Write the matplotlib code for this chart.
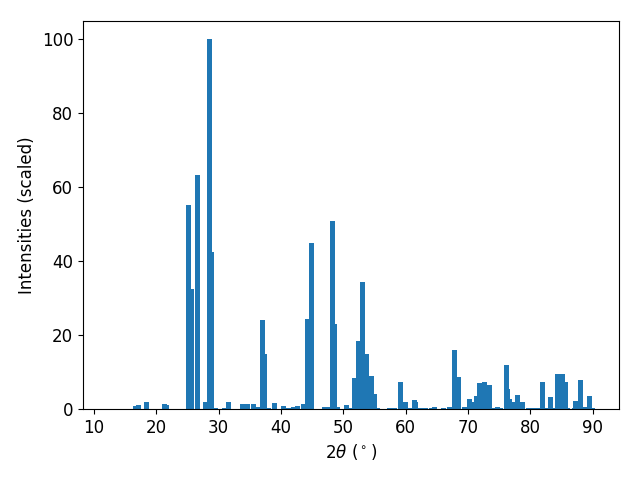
import matplotlib
matplotlib.use("Agg")
import matplotlib.pyplot as plt

two_theta = [16.65, 17.13, 18.41, 21.3, 21.6, 25.14, 25.6, 26.59, 27.87, 28.49,
             28.83, 29.58, 30.9, 31.55, 33.8, 34.6, 35.56, 36.36, 37.0, 37.3,
             38.0, 38.93, 40.37, 41.17, 41.97, 42.6, 43.57, 44.2, 44.86, 46.94,
             47.4, 48.2, 48.54, 49.0, 50.46, 51.3, 51.75, 52.4, 53.03, 53.67,
             54.47, 54.95, 55.5, 57.4, 58.2, 59.1, 59.9, 60.7, 61.36, 61.5,
             62.3, 63.1, 64.1, 64.7, 66.0, 66.97, 67.77, 68.4, 69.4, 70.2,
             70.9, 71.4, 71.78, 72.58, 72.7, 73.5, 74.2, 74.66, 75.2, 76.1,
             76.3, 76.6, 77.07, 77.87, 78.55, 78.8, 79.7, 80.5, 81.3, 81.9,
             82.6, 83.15, 83.8, 84.28, 85.08, 85.56, 86.0, 87.0, 87.3, 87.96,
             88.7, 89.4, 89.9]
intensity = [0.8, 1.1, 1.9, 1.35, 1.1, 55.2, 32.5, 63.4, 1.9, 100.0,
             42.5, 0.3, 0.3, 1.9, 1.4, 1.4, 1.4, 0.5, 24.1, 14.9,
             0.3, 1.6, 0.8, 0.4, 0.5, 0.8, 1.4, 24.4, 45.0, 0.5,
             0.5, 50.9, 23.0, 0.5, 1.1, 0.3, 8.4, 18.4, 34.4, 14.9,
             8.9, 4.1, 0.3, 0.3, 0.3, 7.3, 1.9, 0.3, 2.4, 1.9,
             0.3, 0.3, 0.3, 0.5, 0.3, 0.5, 16.0, 8.7, 0.5, 2.7,
             1.9, 3.5, 7.0, 7.3, 4.9, 6.5, 0.3, 0.5, 0.3, 11.9,
             5.4, 2.7, 1.9, 3.8, 0.3, 1.9, 0.3, 0.3, 0.3, 7.2,
             0.3, 3.3, 0.3, 9.5, 9.5, 7.2, 0.3, 0.3, 2.2, 7.9,
             0.5, 3.5, 0.3]

xlabel = r"$2\theta$ ($^\circ$)"
ylabel = "Intensities (scaled)"

fig, ax = plt.subplots(figsize=(6.4, 4.8), dpi=100)
ax.bar(two_theta, intensity, width=0.8, color="#1f77b4")
ax.set_xlim(8.27, 94.2)
ax.set_xlabel(xlabel, fontsize=12)
ax.set_ylabel(ylabel, fontsize=12)
ax.tick_params(labelsize=12)
fig.subplots_adjust(left=83 / 640, right=619 / 640, top=1 - 21 / 480, bottom=1 - 409 / 480)
fig.savefig("out.png")
